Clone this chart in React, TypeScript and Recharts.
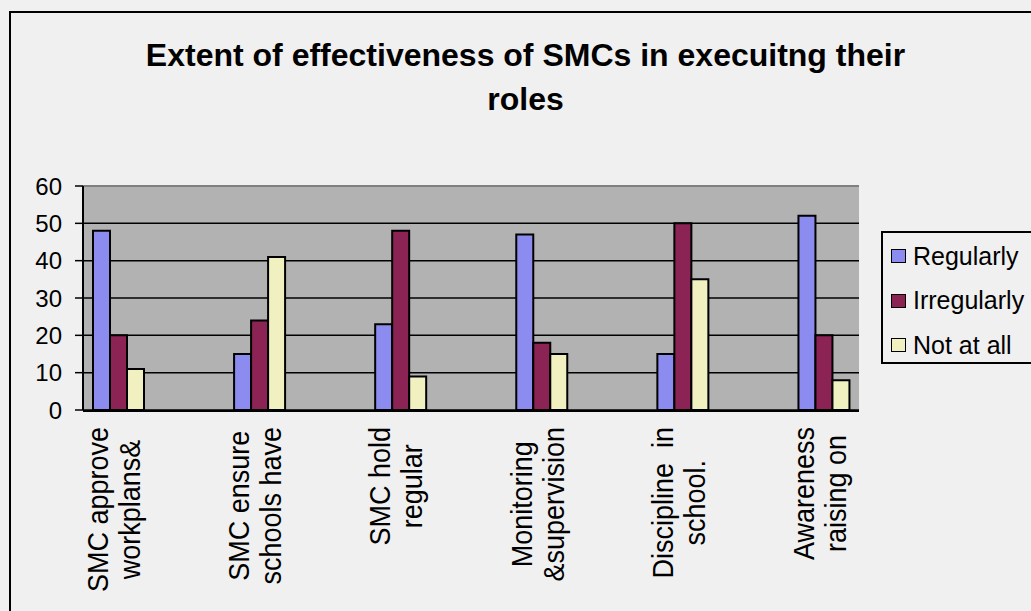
import React from 'react';
import { BarChart, Bar, XAxis, YAxis, CartesianGrid, Legend, ReferenceLine } from 'recharts';

const categories = [
  'SMC approve\nworkplans&',
  '',
  'SMC ensure\nschools have',
  '',
  'SMC hold\nregular',
  '',
  'Monitoring\n&supervision',
  '',
  'Discipline  in\nschool.',
  '',
  'Awareness\nraising on',
];
const regularly = [48, null, 15, null, 23, null, 47, null, 15, null, 52];
const irregularly = [20, null, 24, null, 48, null, 18, null, 50, null, 20];
const notAtAll = [11, null, 41, null, 9, null, 15, null, 35, null, 8];
const seriesNames = ['Regularly', 'Irregularly', 'Not at all'];
const seriesColors = ['#8c8cf0', '#8b2354', '#f0f0c0'];
const yTicks = [0, 10, 20, 30, 40, 50, 60];
const titleLines = ['Extent of effectiveness of SMCs in execuitng their', 'roles'];

const data = categories.map((label, i) => ({
  key: `c${i}`,
  label,
  [seriesNames[0]]: regularly[i],
  [seriesNames[1]]: irregularly[i],
  [seriesNames[2]]: notAtAll[i],
}));
const labelByKey: Record<string, string> = {};
data.forEach((d) => { labelByKey[d.key] = d.label; });
const boundaryTicks = categories.map((_, i) => i).concat([categories.length]);

const FONT = "'Liberation Sans', Arial, sans-serif";

let measureCtx: CanvasRenderingContext2D | null = null;
function measure(text: string, size: number): number {
  if (!measureCtx) {
    const c = document.createElement('canvas');
    measureCtx = c.getContext('2d');
  }
  if (!measureCtx) return text.length * size * 0.5;
  measureCtx.font = `${size}px ${FONT}`;
  return measureCtx.measureText(text).width;
}

const CategoryTick = (props: any) => {
  const { x, y, payload } = props;
  const label = labelByKey[payload?.value] || '';
  if (!label) return <g />;
  const lines = label.split('\n');
  const size = 27;
  const stretch = 1.1;
  const maxW = Math.max(...lines.map((l) => measure(l, size)));
  const offsets = [-10, 22];
  return (
    <g transform={`translate(${x},${y + 17}) rotate(-90)`}>
      {lines.map((ln, i) => (
        <g key={i} transform={`translate(0,${offsets[i]}) scale(1,${stretch})`}>
          <text
            x={-maxW / 2}
            y={0}
            textAnchor="middle"
            fontFamily={FONT}
            fontSize={size}
            fill="#000"
            style={{ whiteSpace: 'pre' }}
          >
            {ln}
          </text>
        </g>
      ))}
    </g>
  );
};

const LegendContent = (props: any) => {
  const payload = [...(props.payload || [])].sort(
    (a: any, b: any) => seriesNames.indexOf(a.value) - seriesNames.indexOf(b.value),
  );
  return (
    <div
      style={{
        boxSizing: 'border-box',
        width: 170,
        height: 133,
        border: '2px solid #000',
        paddingTop: 1,
        fontFamily: FONT,
        fontSize: 25,
        color: '#000',
      }}
    >
      {payload.map((p: any, i: number) => (
        <div key={i} style={{ height: 44.5, display: 'flex', alignItems: 'center', paddingLeft: 8 }}>
          <span
            style={{
              display: 'inline-block',
              boxSizing: 'border-box',
              width: 15,
              height: 14,
              border: '1.5px solid #000',
              background: seriesColors[seriesNames.indexOf(p.value)] || p.color,
              marginRight: 7,
            }}
          />
          <span style={{ lineHeight: 1, whiteSpace: 'nowrap' }}>{p.value}</span>
        </div>
      ))}
    </div>
  );
};

export default function App() {
  return (
    <div
      style={{
        position: 'fixed',
        left: 0,
        top: 0,
        width: 1031,
        height: 611,
        background: '#f0f0f0',
        overflow: 'hidden',
      }}
    >
      <BarChart
        width={1031}
        height={611}
        data={data}
        margin={{ top: 186, right: 172, bottom: 199, left: 0 }}
        barCategoryGap={10}
        barGap={0}
      >
        <rect x={10} y={12} width={2000} height={2000} fill="none" stroke="#000" strokeWidth={2} />
        <text x={525.5} y={65.7} textAnchor="middle" fontFamily={FONT} fontSize={32} fontWeight="bold" fill="#000">
          {titleLines[0]}
        </text>
        <text x={525.5} y={110} textAnchor="middle" fontFamily={FONT} fontSize={32} fontWeight="bold" fill="#000">
          {titleLines[1]}
        </text>
        <CartesianGrid
          xAxisId="num"
          vertical={false}
          fill="#b2b2b2"
          fillOpacity={1}
          stroke="#000"
          strokeWidth={1.5}
        />
        <XAxis
          xAxisId="num"
          type="number"
          domain={[0, categories.length]}
          ticks={boundaryTicks}
          allowDataOverflow
          interval={0}
          height={1}
          tick={false}
          tickSize={8}
          axisLine={{ stroke: '#000', strokeWidth: 2 }}
          tickLine={{ stroke: '#000', strokeWidth: 1.5 }}
        />
        <XAxis
          xAxisId="cat"
          dataKey="key"
          height={1}
          interval={0}
          axisLine={false}
          tickLine={false}
          tickSize={0}
          tickMargin={0}
          tick={<CategoryTick />}
        />
        <YAxis
          width={83}
          domain={[0, 60]}
          ticks={yTicks}
          interval={0}
          tickSize={8}
          tickMargin={13}
          axisLine={{ stroke: '#000', strokeWidth: 2 }}
          tickLine={{ stroke: '#000', strokeWidth: 1.5 }}
          tick={{ fontSize: 24, fill: '#000', fontFamily: FONT }}
        />
        <ReferenceLine xAxisId="num" y={60} stroke="#808080" strokeWidth={2} />
        <ReferenceLine xAxisId="num" x={categories.length} stroke="#808080" strokeWidth={2} />
        {seriesNames.map((name, i) => (
          <Bar
            key={name}
            xAxisId="cat"
            dataKey={name}
            fill={seriesColors[i]}
            stroke="#000"
            strokeWidth={2}
            isAnimationActive={false}
          />
        ))}
        <Legend
          layout="vertical"
          align="center"
          verticalAlign="middle"
          wrapperStyle={{ left: 881, top: 231, width: 170, height: 133 }}
          content={<LegendContent />}
        />
      </BarChart>
    </div>
  );
}
